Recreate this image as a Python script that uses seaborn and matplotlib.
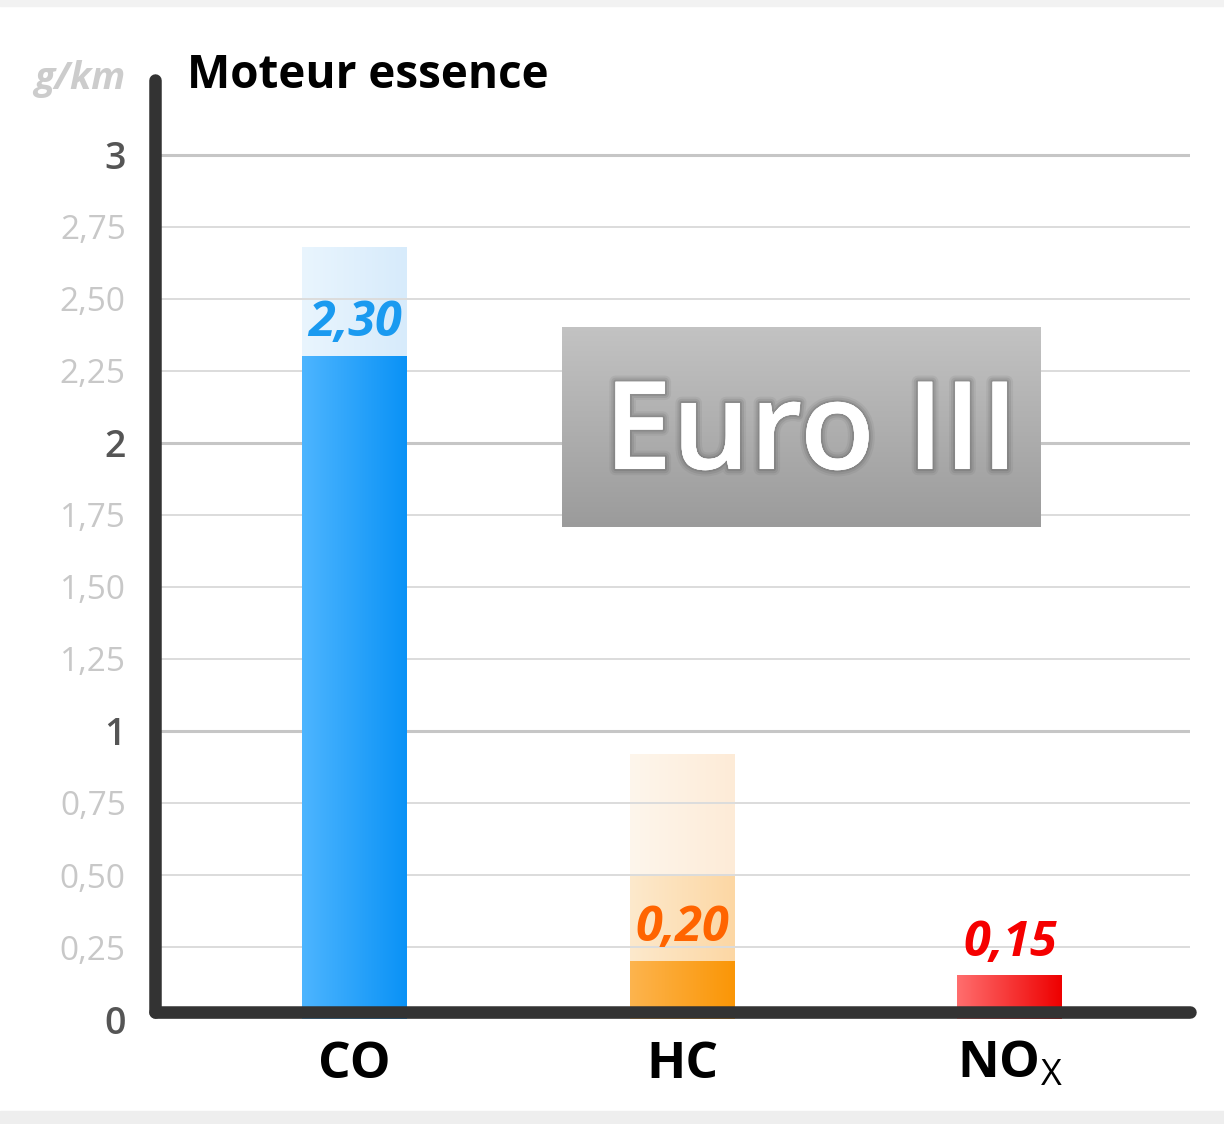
import numpy as np
import pandas as pd
import matplotlib
matplotlib.use("Agg")
import matplotlib.pyplot as plt
import seaborn as sns
import matplotlib.patheffects as pe
from matplotlib.colors import LinearSegmentedColormap
from matplotlib.patches import Rectangle

# Data (g/km), petrol engine, Euro III limits + older limits shown faded
categories = ["CO", "HC", "NOx"]
euro3 = [2.30, 0.20, 0.15]
old_limit_1 = [2.68, 0.92, 0.0]
old_limit_2 = [0.0, 0.50, 0.0]
value_labels = ["2,30", "0,20", "0,15"]
xtick_labels = ["CO", "HC", r"NO$_{\mathrm{X}}$"]
major_ticks = [0, 1, 2, 3]
major_labels = ["0", "1", "2", "3"]
minor_ticks = [0.25, 0.5, 0.75, 1.25, 1.5, 1.75, 2.25, 2.5, 2.75]
minor_labels = ["0,25", "0,50", "0,75", "1,25", "1,50", "1,75", "2,25", "2,50", "2,75"]

# gradient colours (left -> right) for each layer
solid_colors = [("#4db5ff", "#0a92f6"), ("#fdb44e", "#fa9606"), ("#ff6e6e", "#ee0000")]
old1_colors = [("#e9f5fe", "#d7ebfb"), ("#fef6ec", "#fdebd7"), ("#ffffff", "#ffffff")]
old2_colors = [("#ffffff", "#ffffff"), ("#fde9cc", "#fcd7a4"), ("#ffffff", "#ffffff")]
label_colors = ["#1a9af0", "#ff6400", "#f50000"]

sns.set_theme(style="white")
plt.rcParams["font.family"] = ["Open Sans", "DejaVu Sans"]
plt.rcParams["mathtext.fontset"] = "custom"
plt.rcParams["mathtext.rm"] = "Open Sans"

df = pd.DataFrame({"cat": categories, "euro3": euro3,
                   "old1": old_limit_1, "old2": old_limit_2})

fig = plt.figure(figsize=(12.24, 11.24), dpi=100)
ax = fig.add_axes([0.1266, 0.0934, 0.8456, 0.8354])
YMAX = 3.26


def gradient_layer(col, colors, z):
    n = len(ax.patches)
    sns.barplot(data=df, x="cat", y=col, ax=ax, width=0.32, color="white")
    for p, (c1, c2) in zip(ax.patches[n:], colors):
        p.set_visible(False)
        h = p.get_height()
        if h <= 0:
            continue
        x0, w = p.get_x(), p.get_width()
        cmap = LinearSegmentedColormap.from_list("g", [c1, c2])
        ax.imshow(np.linspace(0, 1, 256).reshape(1, -1), cmap=cmap,
                  extent=[x0, x0 + w, 0, h], aspect="auto", zorder=z,
                  interpolation="bilinear")


gradient_layer("old1", old1_colors, 0.3)
gradient_layer("old2", old2_colors, 0.35)
gradient_layer("euro3", solid_colors, 2)

for i, (v, lab, c) in enumerate(zip(euro3, value_labels, label_colors)):
    ax.text(i, v + 0.07, lab, ha="center", va="baseline", color=c,
            fontsize=35, fontweight="bold", fontstyle="italic", zorder=3)

ax.set_xlim(-0.61, 2.55)
ax.set_ylim(0, YMAX)

ax.set_axisbelow(True)
for s in ["top", "right"]:
    ax.spines[s].set_visible(False)
for s in ["left", "bottom"]:
    ax.spines[s].set_color("#333333")
    ax.spines[s].set_linewidth(9)
    ax.spines[s].set_capstyle("round")
    ax.spines[s].set_zorder(4)
# bottom axis line sits slightly above the zero level, like the original
ax.spines["bottom"].set_position(("outward", -5))
ax.spines["left"].set_bounds(0.024, YMAX)

ax.set_yticks(major_ticks, labels=major_labels)
ax.set_yticks(minor_ticks, labels=minor_labels, minor=True)
ax.tick_params(axis="y", which="major", length=0, pad=21, labelsize=27,
               labelcolor="#555555")
ax.tick_params(axis="y", which="minor", length=0, pad=21, labelsize=24,
               labelcolor="#c8c8c8")
ax.set_xticks(range(len(categories)), labels=xtick_labels)
ax.tick_params(axis="x", length=0, pad=20, labelsize=37, labelcolor="black")
plt.setp(ax.get_xticklabels(), fontweight="bold")
plt.setp(ax.get_yticklabels(), fontweight="semibold")
ax.set_xlabel("")
ax.set_ylabel("")

ax.yaxis.grid(True, which="major", color="#c6c6c6", linewidth=2.2)
ax.yaxis.grid(True, which="minor", color="#dcdcdc", linewidth=1.4)
ax.xaxis.grid(False)

fig.text(0.102, 0.921, "g/km", ha="right", va="baseline", color="#cccccc",
         fontsize=27, fontweight="bold", fontstyle="italic")
fig.text(0.1528, 0.9217, "Moteur essence", ha="left", va="baseline",
         color="black", fontsize=33, fontweight="bold")

# Euro III badge
bx = fig.add_axes([0.4592, 0.5311, 0.3913, 0.178])
bx.imshow(np.linspace(0, 1, 256).reshape(-1, 1),
          cmap=LinearSegmentedColormap.from_list("b", ["#c3c3c3", "#9b9b9b"]),
          extent=[0, 1, 0, 1], aspect="auto")
bx.set_axis_off()
glow = [pe.withStroke(linewidth=9, foreground="#444444", alpha=0.08),
        pe.withStroke(linewidth=6, foreground="#444444", alpha=0.12),
        pe.withStroke(linewidth=3, foreground="#444444", alpha=0.18),
        pe.Normal()]
bx.text(0.52, 0.45, "Euro III", ha="center", va="center", color="white",
        fontsize=88, fontweight="semibold", transform=bx.transAxes,
        path_effects=glow)

# light gray strips at the top and bottom edges
fig.patches.append(Rectangle((0, 0), 1, 0.012, transform=fig.transFigure,
                             color="#eeeeee", zorder=0))
fig.patches.append(Rectangle((0, 0.995), 1, 0.005, transform=fig.transFigure,
                             color="#f2f2f2", zorder=0))

fig.savefig("out.png", dpi=100, facecolor="white")
